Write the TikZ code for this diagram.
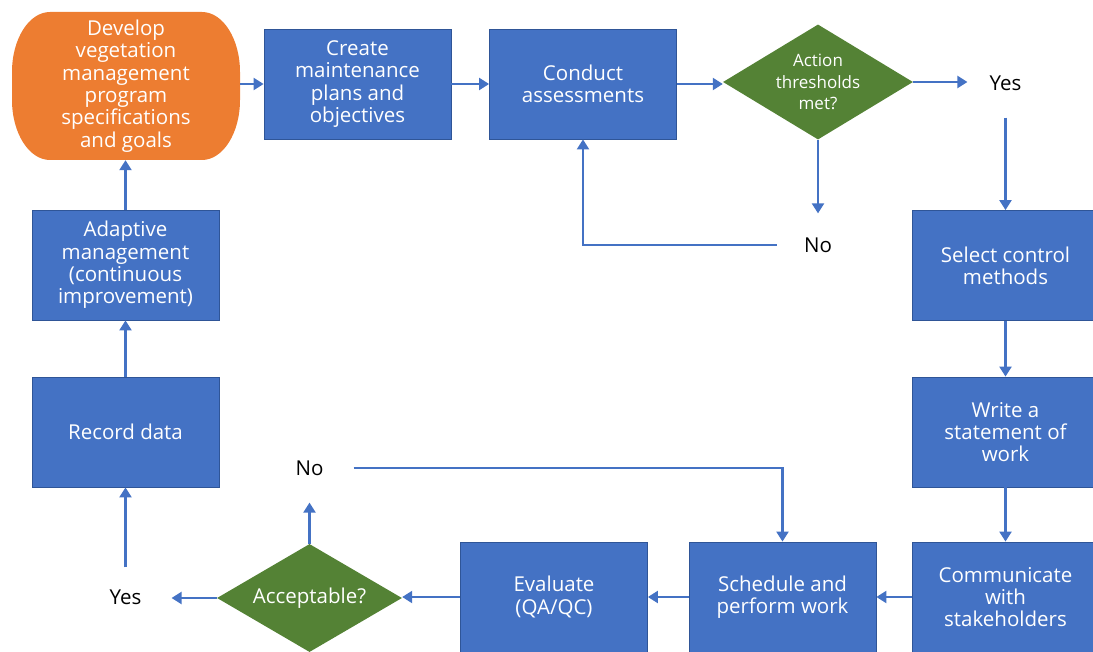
\documentclass[tikz,border=0pt]{standalone}
\usepackage{fontspec}
\setmainfont{Open Sans}
\usetikzlibrary{arrows.meta,shapes.geometric}
\definecolor{boxblue}{HTML}{4472C4}
\definecolor{boxedge}{HTML}{2F5597}
\definecolor{linkblue}{HTML}{4472C4}
\definecolor{devorange}{HTML}{ED7D31}
\definecolor{diagreen}{HTML}{548235}
\begin{document}
\begin{tikzpicture}[x=1pt,y=-1pt,
  txt/.style={font=\fontsize{20.5}{22.3}\selectfont},
  box/.style={rectangle, fill=boxblue, draw=boxedge, line width=0.8pt, minimum width=187pt, minimum height=110pt, align=center, text=white, txt, inner sep=0pt},
  dia/.style={diamond, fill=diagreen, draw=none, inner sep=0pt},
  dtext/.style={align=center, text=white, inner sep=0pt},
  lbl/.style={text=black, txt, inner sep=0pt},
  arr/.style={draw=linkblue, line width=2.2pt, -{Triangle[width=12pt,length=10pt]}}]
\useasboundingbox (0,0) rectangle (1093,652);
\clip (0,0) rectangle (1093,652);
% orange terminal
\fill[devorange] (50,12) -- (202,12)
  arc[start angle=-90, end angle=0, x radius=38, y radius=60] -- (240,100)
  arc[start angle=0, end angle=90, x radius=38, y radius=60] -- (50,160)
  arc[start angle=90, end angle=180, x radius=38, y radius=60] -- (12,72)
  arc[start angle=180, end angle=270, x radius=38, y radius=60] -- cycle;
\node[rectangle, minimum width=228pt, minimum height=148pt, align=center, text=white, txt, inner sep=0pt] (dev) at (126,86)
  {Develop\\vegetation\\management\\program\\specifications\\and goals};
% boxes
\node[box] (create) at (357.5,84) {Create\\maintenance\\plans and\\objectives};
\node[box] (conduct) at (583,84) {Conduct\\assessments};
\node[dia, minimum width=190pt, minimum height=115pt] (d1) at (818,82) {};
\node[dtext, font=\fontsize{17}{21.5}\selectfont] (d1t) at (d1.center) {Action\\thresholds\\met?};
\node[lbl] (yes1) at (1005.5,83) {Yes};
\node[lbl] (no1) at (818,245) {No};
\node[box] (select) at (1005.5,265.5) {Select control\\methods};
\node[box] (write) at (1005.5,432) {Write a\\statement of\\work};
\node[box] (comm) at (1005.5,597) {Communicate\\with\\stakeholders};
\node[box] (sched) at (782.5,597) {Schedule and\\perform work};
\node[box] (eval) at (554,597) {Evaluate\\(QA/QC)};
\node[dia, minimum width=185pt, minimum height=108pt] (d2) at (309.5,598) {};
\node[dtext, txt] (d2t) at (d2.center) {Acceptable?};
\node[lbl] (yes2) at (125.5,597) {Yes};
\node[lbl] (no2) at (309.5,468) {No};
\node[box] (record) at (125.5,432) {Record data};
\node[box] (adapt) at (125.5,265) {Adaptive\\management\\(continuous\\improvement)};
% connectors
\draw[arr] (dev.east |- create.west) -- (create.west);
\draw[arr] (create.east) -- (conduct.east -| conduct.west);
\draw[arr] (conduct.east) -- (conduct.east -| d1.west);
\draw[arr] (d1.east) -- ([xshift=-22pt]yes1.west |- d1.east);
\draw[arr] ([yshift=-27pt]yes1.south) -- (select.north);
\draw[arr] (d1.south) -- ([yshift=24pt]no1.north);
\draw[arr] ([xshift=-27pt]no1.west) -| (conduct.south);
\draw[arr] (select.south) -- (write.north);
\draw[arr] (write.south) -- (comm.north);
\draw[arr] (comm.west) -- (sched.east);
\draw[arr] (sched.west) -- (eval.east);
\draw[arr] (eval.west) -- (eval.west -| d2.east);
\draw[arr] (d2.west) -- ([xshift=30pt]yes2.east |- d2.west);
\draw[arr] ([yshift=22pt]yes2.north) -- (record.south);
\draw[arr] (record.north) -- (adapt.south);
\draw[arr] (adapt.north) -- (adapt.north |- dev.south);
\draw[arr] (d2.north) -- ([yshift=-27pt]no2.south);
\draw[arr] ([xshift=30pt]no2.east) -| (sched.north);
\end{tikzpicture}
\end{document}
